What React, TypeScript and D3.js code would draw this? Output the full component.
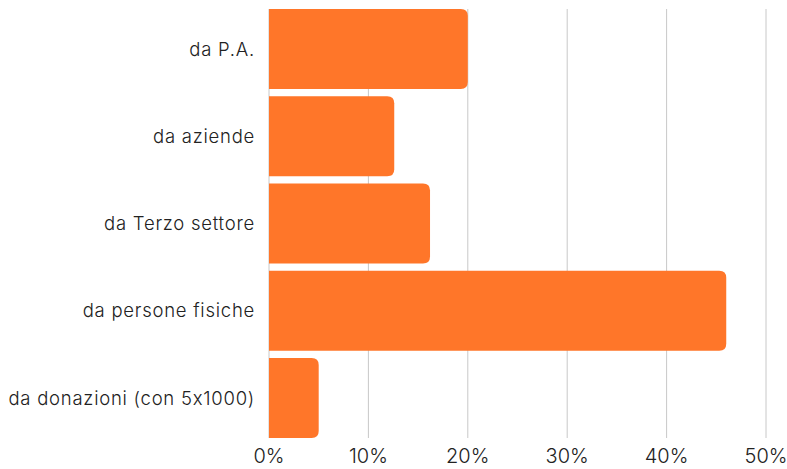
import React from "react";
import * as d3 from "d3";

const categories = ["da P.A.", "da aziende", "da Terzo settore", "da persone fisiche", "da donazioni (con 5x1000)"];
const values = [20, 12.6, 16.2, 46, 5];
const ticks = [0, 10, 20, 30, 40, 50];

const W = 787, H = 469;

export default function App() {
  const x = d3.scaleLinear().domain([0, 50]).range([269, 766]);
  const y = d3.scaleBand<string>().domain(categories).range([5.4, 441.6]).paddingInner(0.083).paddingOuter(0.0415);
  const r = 7;
  const barPath = (v: number, c: string) => {
    const x0 = x(0), x1 = x(v), y0 = y(c)!, h = y.bandwidth();
    const rr = Math.min(r, (x1 - x0) / 2);
    return `M${x0},${y0}H${x1 - rr}Q${x1},${y0} ${x1},${y0 + rr}V${y0 + h - rr}Q${x1},${y0 + h} ${x1 - rr},${y0 + h}H${x0}Z`;
  };
  return (
    <svg width={W} height={H} style={{ position: "absolute", left: 0, top: 0, fontFamily: "Inter, sans-serif", fontFeatureSettings: "'calt' 0" }}>
      {ticks.map((t) => (
        <line key={t} x1={x(t)} x2={x(t)} y1={9} y2={438} stroke="#c8c8c8" strokeWidth={1} />
      ))}
      {categories.map((c, i) => (
        <path key={c} d={barPath(values[i], c)} fill="#FF7629" />
      ))}
      {categories.map((c) => (
        <text key={c} x={255} y={y(c)! + y.bandwidth() / 2} dy="0.36em" textAnchor="end" fontSize={18.5} fontWeight={300} letterSpacing={0.75} fill="#222">
          {c}
        </text>
      ))}
      {ticks.map((t) => (
        <text key={t} x={x(t)} y={463} textAnchor="middle" fontSize={20} fontWeight={300} fill="#222">
          {t}%
        </text>
      ))}
    </svg>
  );
}
